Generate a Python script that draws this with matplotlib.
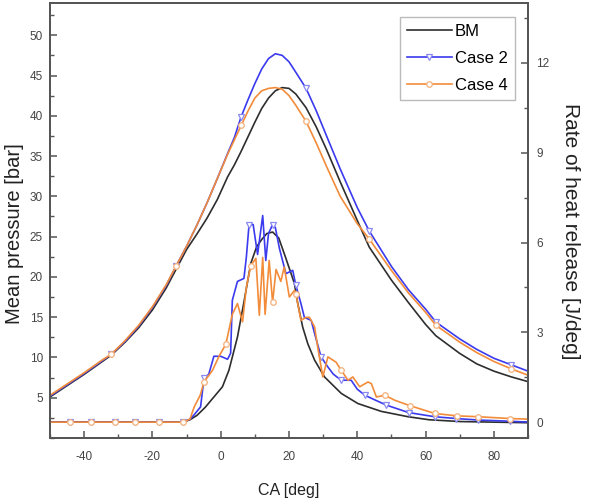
import matplotlib
matplotlib.use('Agg')
import matplotlib.pyplot as plt
from matplotlib.ticker import MultipleLocator
import numpy as np

plt.rcParams['font.family'] = ['Liberation Sans', 'DejaVu Sans']
plt.rcParams['axes.unicode_minus'] = False

# Mean pressure [bar] vs CA [deg]
ca_p = [-50, -45, -40, -35, -32, -28, -24, -20, -16, -13, -10, -7, -4, -1, 2, 4, 6, 8, 10, 12,
        14, 16, 18, 20, 22, 25, 28, 31, 35, 40, 43.5, 50, 55, 60, 63, 70, 75, 80, 85, 90]
p_bm = [5.1, 6.5, 7.9, 9.4, 10.3, 11.9, 13.7, 15.9, 18.6, 21.0, 23.4, 25.3, 27.3, 29.6, 32.4, 33.9, 35.6, 37.4, 39.2, 40.9,
        42.2, 43.1, 43.5, 43.4, 42.7, 41.0, 38.6, 35.8, 31.8, 27.0, 23.7, 19.6, 16.8, 14.1, 12.7, 10.5, 9.2, 8.3, 7.6, 7.0]
p_c2 = [5.2, 6.6, 8.0, 9.5, 10.4, 12.0, 13.9, 16.2, 18.9, 21.4, 23.8, 26.4, 29.2, 32.2, 35.3, 37.3, 39.9, 42.0, 44.0, 45.8,
        47.1, 47.7, 47.5, 46.7, 45.4, 43.4, 40.6, 37.5, 33.4, 28.6, 25.7, 21.3, 18.4, 16.0, 14.4, 12.3, 11.0, 9.9, 9.1, 8.3]
p_c4 = [5.3, 6.7, 8.1, 9.6, 10.4, 12.1, 14.0, 16.3, 19.0, 21.4, 23.8, 26.4, 29.2, 32.2, 35.2, 37.0, 38.8, 40.6, 42.2, 43.1,
        43.4, 43.5, 43.3, 42.5, 41.3, 39.3, 36.6, 33.7, 30.0, 26.6, 24.7, 20.8, 18.0, 15.6, 14.0, 11.9, 10.6, 9.5, 8.6, 7.8]
p_marks = [-32, -13, 6, 25, 43.5, 63, 85]

# Rate of heat release [J/deg]
ca_q_bm = [-50, -11, -9, -6.9, -4.5, -2, 0.5, 2.4, 4.9, 6.9, 8.8, 10.5, 12, 13.5, 15.2, 17, 19, 20.5, 21.6, 22.5,
           24, 25.5, 27.5, 30.4, 35.3, 40.2, 47, 54.9, 61, 70, 80, 90]
q_bm = [0, 0, 0.08, 0.23, 0.5, 0.84, 1.18, 1.73, 2.84, 4.07, 5.3, 5.85, 6.1, 6.3, 6.35, 6.15, 5.5, 5.0, 4.62, 4.0,
        3.18, 2.62, 2.07, 1.51, 0.96, 0.62, 0.36, 0.18, 0.08, 0.02, 0.0, -0.02]

ca_q_c2 = [-50, -44, -38, -31, -25, -18, -11, -9, -7.9, -5.9, -4.9, -3.5, -2, 0, 2, 2.9, 3.4, 4.9, 6.8, 7.5,
           8.3, 9.5, 10.8, 12.3, 13.2, 14, 15.2, 16, 17.2, 19.1, 21.1, 22, 23.5, 24.5, 26.5, 27.5, 29.4, 31.4, 33, 35.3,
           38.2, 40, 42.2, 45, 48.5, 55, 62.7, 69, 75.5, 84.8, 90]
q_c2 = [0, 0, 0, 0, 0, 0, 0, 0.1, 0.23, 0.51, 1.46, 1.6, 2.2, 2.2, 2.1, 2.3, 4.07, 4.7, 4.8, 5.5,
        6.6, 6.6, 5.6, 6.9, 5.4, 6.3, 6.6, 6.5, 5.8, 4.96, 5.07, 4.57, 3.96, 3.5, 3.4, 2.96, 2.18, 1.84, 1.6, 1.4,
        1.4, 1.1, 0.9, 0.75, 0.57, 0.32, 0.18, 0.12, 0.07, 0.03, 0.0]
q_c2_marks = [-44, -38, -31, -25, -18, -11, -4.9, 8.3, 15.2, 22, 29.4, 35.3, 42.2, 48.5, 55, 62.7, 69, 75.5, 84.8]

ca_q_c4 = [-50, -44, -38, -31, -25, -18, -11, -9, -7.8, -6, -4.9, -2.4, -0.5, 1.5, 3.4, 4.9, 6.4, 7.5, 8.8, 10.3,
           11.3, 12.3, 13, 14.2, 15.2, 16.2, 17.6, 18.6, 20.1, 21.6, 22, 23.5, 25, 26, 27.5, 28.4, 29.9, 31.4, 33.8, 35.3,
           37.3, 38.7, 40.7, 43.1, 44.1, 45.6, 48, 51, 55.4, 62.7, 69.1, 75.5, 84.8, 90]
q_c4 = [0, 0, 0, 0, 0, 0, 0, 0.1, 0.5, 0.9, 1.34, 1.73, 2.2, 2.6, 3.6, 3.96, 3.35, 4.5, 5.23, 5.47,
        3.57, 5.5, 3.6, 5.4, 4.0, 5.1, 4.7, 5.18, 4.18, 4.4, 4.29, 3.4, 3.5, 3.5, 3.18, 2.51, 1.51, 2.18, 2.0, 1.73,
        1.4, 1.51, 1.18, 1.34, 1.29, 0.84, 0.9, 0.73, 0.55, 0.29, 0.21, 0.18, 0.12, 0.1]
q_c4_marks = [-44, -38, -31, -25, -18, -11, -4.9, 1.5, 8.8, 15.2, 22, 35.3, 48, 55.4, 62.7, 69.1, 75.5, 84.8]

c_bm = '#2e2e2e'
c_c2 = '#3a3aee'
c_c4 = '#f28c3a'
mk2 = dict(marker='v', markersize=4, mfc='white', mec='#8a8af2', mew=0.9)
mk4 = dict(marker='o', markersize=4, mfc='white', mec='#f4b07a', mew=0.9)


def marks(ca, where):
  return list(np.nonzero(np.isin(ca, where))[0])


fig = plt.figure(figsize=(5.92, 4.98), dpi=100)
ax = fig.add_axes([50/592, 60/498, 478/592, 435/498])
ax2 = ax.twinx()

# pressure curves (left axis)
ax.plot(ca_p, p_bm, color=c_bm, lw=1.2, label='BM')
ax.plot(ca_p, p_c2, color=c_c2, lw=1.2, markevery=marks(ca_p, p_marks), label='Case 2', **mk2)
ax.plot(ca_p, p_c4, color=c_c4, lw=1.2, markevery=marks(ca_p, p_marks), label='Case 4', **mk4)

# heat release curves (right axis)
ax2.plot(ca_q_bm, q_bm, color=c_bm, lw=1.2)
ax2.plot(ca_q_c2, q_c2, color=c_c2, lw=1.2, markevery=marks(ca_q_c2, q_c2_marks), **mk2)
ax2.plot(ca_q_c4, q_c4, color=c_c4, lw=1.2, markevery=marks(ca_q_c4, q_c4_marks), **mk4)

ax.set_xlim(-50, 90)
ax.set_ylim(0, 54)
ax2.set_ylim(-0.53, 14)

ax.xaxis.set_major_locator(MultipleLocator(20))
ax.xaxis.set_minor_locator(MultipleLocator(10))
ax.set_yticks(np.arange(5, 51, 5))
ax.yaxis.set_minor_locator(MultipleLocator(2.5))
ax2.set_yticks([0, 3, 6, 9, 12])
ax2.yaxis.set_minor_locator(MultipleLocator(1.5))

for a in (ax, ax2):
  for s in a.spines.values():
    s.set_color('#555555')
    s.set_linewidth(1.3)
ax.tick_params(axis='both', which='major', direction='in', length=5, width=1.1,
               color='#555555', labelsize=8.5, labelcolor='#444444')
ax.tick_params(axis='both', which='minor', direction='in', length=3, width=1.0, color='#555555')
ax.tick_params(axis='x', which='major', pad=9)
ax.tick_params(axis='y', which='major', pad=5)
ax2.tick_params(axis='y', which='major', direction='in', length=5, width=1.1,
                color='#555555', labelsize=8.5, labelcolor='#444444', pad=6)
ax2.tick_params(axis='y', which='minor', direction='in', length=3, width=1.0, color='#555555')

ax.set_xlabel('CA [deg]', fontsize=11.5, color='#222222')
ax.set_ylabel('Mean pressure [bar]', fontsize=14.5, color='#222222')
ax2.set_ylabel('Rate of heat release [J/deg]', fontsize=15, color='#222222', rotation=270)
ax.xaxis.set_label_coords(0.5, -0.103)
ax.yaxis.set_label_coords(-0.075, 0.47)
ax2.yaxis.set_label_coords(1.088, 0.475)
ax.yaxis.label.set_va('center')
ax2.yaxis.label.set_va('center')

leg = ax.legend(loc='upper right', bbox_to_anchor=(1 - 13/478, 1 - 14/435), fontsize=12,
                frameon=True, fancybox=False, edgecolor='#aaaaaa', handlelength=2.7,
                handletextpad=0.2, labelspacing=0.72, borderpad=0.42, borderaxespad=0,
                numpoints=1)
leg.get_frame().set_linewidth(1.0)
leg.set_zorder(5)

fig.savefig('out.png', dpi=100)
